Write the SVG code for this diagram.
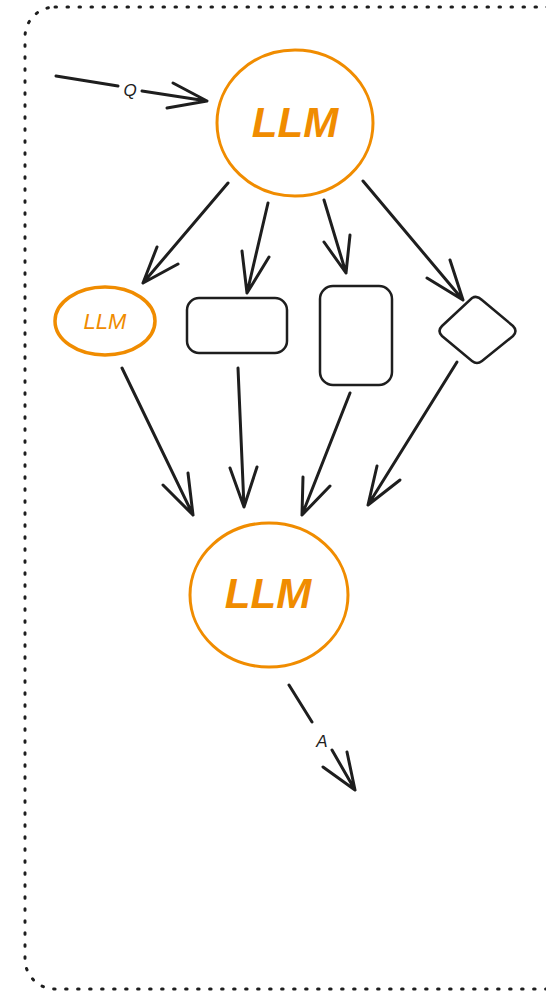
<svg xmlns="http://www.w3.org/2000/svg" width="546" height="992" viewBox="0 0 546 992">
<style>
.frame{fill:none;stroke:#1e1e1e;stroke-width:3;stroke-dasharray:1.5 10.5;stroke-linecap:round}
.orange{fill:none;stroke:#f08c00;stroke-width:3}
.box{fill:none;stroke:#1e1e1e;stroke-width:2.5}
.conn{fill:none;stroke:#1e1e1e;stroke-width:3;stroke-linecap:round;stroke-linejoin:round}
.llm{fill:#f08c00;font-family:"Liberation Sans",Arial,sans-serif;font-style:italic;font-weight:bold;text-anchor:middle}
.lbl{fill:#1e1e1e;font-family:"Liberation Sans",Arial,sans-serif;font-style:italic;font-size:17px;text-anchor:middle}
</style>
<rect class="frame" x="25" y="7" width="560" height="982" rx="30"/>
<g id="llm-top">
<ellipse class="orange" cx="295" cy="123" rx="78" ry="73"/>
<text class="llm" x="295" y="137" font-size="42">LLM</text>
</g>
<g id="llm-small">
<ellipse class="orange" cx="105" cy="321" rx="50" ry="34" style="stroke-width:3.5"/>
<text class="llm" x="105" y="329" font-size="22" style="font-weight:normal">LLM</text>
</g>
<g id="rect-wide">
<rect class="box" x="187" y="298" width="100" height="55" rx="12"/>
</g>
<g id="rect-tall">
<rect class="box" x="320" y="286" width="72" height="99" rx="13"/>
</g>
<g id="diamond">
<path class="box" d="M472 298 Q477 295 482 300 L513 326 Q518 331 513 336 L482 361 Q477 365 472 361 L442 336 Q437 331 442 326 Z"/>
</g>
<g id="llm-bottom">
<ellipse class="orange" cx="269" cy="595" rx="79" ry="72"/>
<text class="llm" x="268" y="608" font-size="42">LLM</text>
</g>
<g id="connectors">
<path class="conn" d="M56 76 L118 86 M142 91 L207 101 M173 83 L207 101 L167 108"/>
<text class="lbl" x="130" y="96">Q</text>
<path class="conn" d="M228 183 L143 283 M157 247 L143 283 L178 264"/>
<path class="conn" d="M268 203 L247 293 M242 251 L247 293 L269 257"/>
<path class="conn" d="M324 200 L346 273 M324 242 L346 273 L350 235"/>
<path class="conn" d="M363 181 L463 300 M427 278 L463 300 L450 260"/>
<path class="conn" d="M122 368 L193 515 M163 485 L193 515 L188 473"/>
<path class="conn" d="M238 368 L244 507 M230 468 L244 507 L257 467"/>
<path class="conn" d="M350 393 L302 515 M303 477 L302 515 L330 486"/>
<path class="conn" d="M457 362 L368 505 M377 466 L368 505 L400 480"/>
<path class="conn" d="M289 685 L312 722 M332 750 L355 790 M323 767 L355 790 L347 752"/>
<text class="lbl" x="322" y="747">A</text>
</g>
</svg>
